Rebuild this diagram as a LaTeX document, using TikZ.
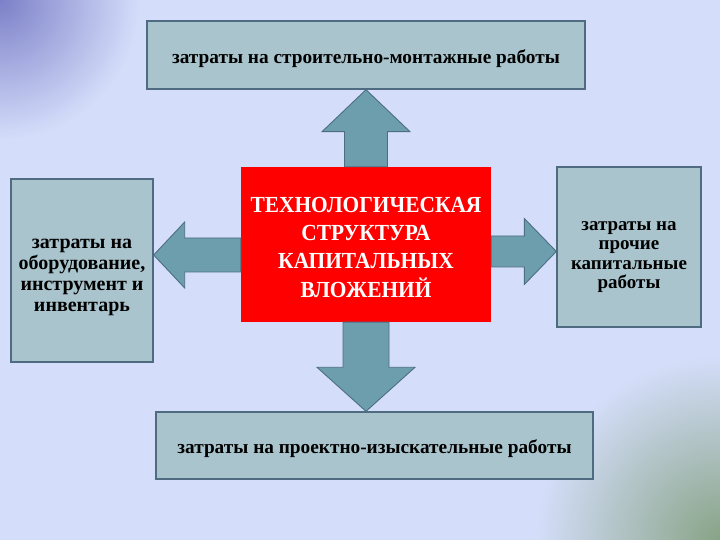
\documentclass[tikz,border=0pt]{standalone}
\usepackage{fontspec}
\setmainfont{Liberation Serif}
\newfontfamily\corefont[FakeStretch=0.93]{Liberation Serif}
\usetikzlibrary{calc}
\definecolor{bgcol}{HTML}{D4DEFA}
\definecolor{boxcol}{HTML}{A9C4CC}
\definecolor{edgecol}{HTML}{4F6B82}
\definecolor{arrcol}{HTML}{6D9EAD}
\definecolor{arredge}{HTML}{4D6E80}
\definecolor{cornerA}{HTML}{7C80C8}
\definecolor{cornerB}{HTML}{88A386}
% strut that pushes the first line of a box down
\newcommand\dropline[1]{\rule{0pt}{#1}}
\tikzset{
  costbox/.style={draw=edgecol, line width=1.4pt, fill=boxcol, align=center,
    inner sep=2pt, font=\bfseries\fontsize{19.3}{20}\selectfont},
  corebox/.style={fill=red, text=white, align=center,
    font=\corefont\bfseries\fontsize{23}{28.3}\selectfont},
  blockarrow/.style={draw=arredge, line width=0.9pt, fill=arrcol, line join=miter}
}

\begin{document}
\begin{tikzpicture}[x=1pt, y=1pt]
			%%%%% BACKGROUND %%%%%
			\fill[bgcol] (0, 0) rectangle (720, 540);
			\begin{scope}
				\clip (0, 0) rectangle (720, 540);
				\shade[inner color=cornerA, outer color=bgcol] (0, 540) circle (140);
				\shade[inner color=cornerB, outer color=bgcol] (720, 0) circle (185);
			\end{scope}
			\useasboundingbox (0, 0) rectangle (720, 540);
			
			%%%%% BOXES %%%%%
			\node[corebox, minimum width=250, minimum height=155] (core) at (366, 295.5)
				{\dropline{20.5pt}ТЕХНОЛОГИЧЕСКАЯ\\СТРУКТУРА\\КАПИТАЛЬНЫХ\\ВЛОЖЕНИЙ};
			
			\node[costbox, minimum width=438, minimum height=68] (top) at (366, 485)
				{\dropline{21.5pt}затраты на строительно-монтажные работы};
			\node[costbox, minimum width=437, minimum height=67] (bottom) at (374.5, 94.5)
				{\dropline{19.5pt}затраты на проектно-изыскательные работы};
			\node[costbox, minimum width=142, minimum height=183,
				font=\bfseries\fontsize{20}{21}\selectfont] (left) at (82, 269.5)
				{\dropline{24pt}затраты на\\оборудование,\\инструмент и\\инвентарь};
			\node[costbox, minimum width=144, minimum height=160,
				font=\bfseries\fontsize{19}{19.5}\selectfont] (right) at (629, 293)
				{\dropline{29pt}затраты на\\прочие\\капитальные\\работы};
			
			%%%%% ARROWS %%%%%
			\coordinate (ub) at (core.north);
			\coordinate (ut) at (top.south);
			\draw[blockarrow] ($(ub)+(-21.5, 0)$) -- ($(ut)+(-21.5, -42)$) -- ($(ut)+(-44, -42)$)
				-- (ut) -- ($(ut)+(44, -42)$) -- ($(ut)+(21.5, -42)$) -- ($(ub)+(21.5, 0)$) -- cycle;
			
			\coordinate (db) at (core.south);
			\coordinate (dt) at (core.south |- bottom.north);
			\draw[blockarrow] ($(db)+(-23, 0)$) -- ($(dt)+(-23, 44)$) -- ($(dt)+(-49, 44)$)
				-- (dt) -- ($(dt)+(49, 44)$) -- ($(dt)+(23, 44)$) -- ($(db)+(23, 0)$) -- cycle;
			
			\coordinate (rb) at ($(core.east)+(0, -7)$);
			\coordinate (rt) at (right.west |- rb);
			\draw[blockarrow] ($(rb)+(0, 15.5)$) -- ($(rt)+(-32, 15.5)$) -- ($(rt)+(-32, 33)$)
				-- (rt) -- ($(rt)+(-32, -33)$) -- ($(rt)+(-32, -15.5)$) -- ($(rb)+(0, -15.5)$) -- cycle;
			
			\coordinate (lb) at ($(core.west)+(0, -10.5)$);
			\coordinate (lt) at (left.east |- lb);
			\draw[blockarrow] ($(lb)+(0, 17)$) -- ($(lt)+(31, 17)$) -- ($(lt)+(31, 33)$)
				-- (lt) -- ($(lt)+(31, -33)$) -- ($(lt)+(31, -17)$) -- ($(lb)+(0, -17)$) -- cycle;
			
			%%%%% END %%%%%
		\end{tikzpicture}
\end{document}
